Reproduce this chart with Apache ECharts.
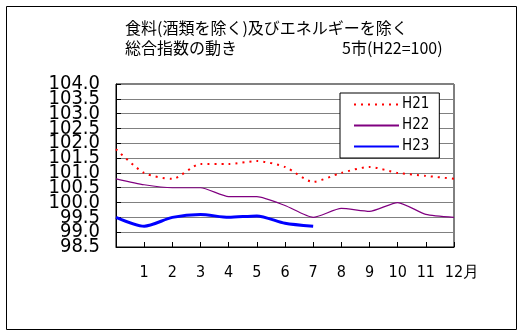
<!DOCTYPE html>
<html>
<head>
<meta charset="utf-8">
<script src="https://cdn.jsdelivr.net/npm/echarts@6/dist/echarts.min.js"></script>
<style>
html,body{margin:0;padding:0;background:#fff;}
#c{width:523px;height:334px;}
</style>
</head>
<body>
<div id="c"></div>
<script>
// Data
const categories = ['', '1', '2', '3', '4', '5', '6', '7', '8', '9', '10', '11', '12'];
const seriesNames = ['H21', 'H22', 'H23'];
const h21 = [101.8, 101.0, 100.8, 101.3, 101.3, 101.4, 101.2, 100.7, 101.0, 101.2, 101.0, 100.9, 100.8];
const h22 = [100.8, 100.6, 100.5, 100.5, 100.2, 100.2, 99.9, 99.5, 99.8, 99.7, 100.0, 99.6, 99.5];
const h23 = [99.5, 99.2, 99.5, 99.6, 99.5, 99.55, 99.3, 99.2];
const yMin = 98.5, yMax = 104.0, yStep = 0.5;
const titleLine1 = '食料(酒類を除く)及びエネルギーを除く';
const titleLine2 = '総合指数の動き';
const subTitle = '5市(H22=100)';
const monthUnit = '月';

const narrow = "'Liberation Sans Narrow', 'DejaVu Sans Condensed', sans-serif";
const cjk = "'Noto Sans CJK JP', sans-serif";

function yLabel(wantHalf) {
  return function (v) {
    const isHalf = Math.abs(v - Math.floor(v) - 0.5) < 1e-6;
    return isHalf === wantHalf ? v.toFixed(1) : '';
  };
}
const yLabelStyle = {margin: 16, color: '#000', fontFamily: narrow, fontSize: 20, hideOverlap: false,
  showMinLabel: true, showMaxLabel: true};

const chart = echarts.init(document.getElementById('c'), null, {renderer: 'canvas'});
chart.setOption({
  backgroundColor: '#fff',
  animation: false,
  title: [
    {text: titleLine1 + '\n' + titleLine2, left: 120, top: 13,
     textStyle: {fontFamily: cjk, fontSize: 16, fontWeight: 'normal', color: '#000', lineHeight: 20}},
    {text: subTitle, left: 337, top: 33,
     textStyle: {fontFamily: cjk, fontSize: 16, fontWeight: 'normal', color: '#000', lineHeight: 20}}
  ],
  graphic: [{
    type: 'rect', shape: {x: 6.5, y: 6.5, width: 510, height: 323},
    style: {fill: 'none', stroke: '#000', lineWidth: 1}, silent: true
  }],
  legend: {
    orient: 'vertical', left: 340, top: 93,
    padding: [4, 10, 4, 13], itemGap: 6, itemWidth: 45, itemHeight: 14,
    backgroundColor: '#fff', borderColor: '#000', borderWidth: 1,
    itemStyle: {opacity: 0},
    textStyle: {fontFamily: narrow, fontSize: 15, color: '#000', padding: [0, 0, 0, -2]},
    data: seriesNames
  },
  grid: {left: 116, top: 84, right: 69, bottom: 87, show: true, borderColor: '#000', borderWidth: 1, containLabel: false},
  xAxis: {
    type: 'category', data: categories, boundaryGap: false,
    axisLine: {lineStyle: {color: '#000', width: 1}},
    axisTick: {show: true, inside: true, length: 5, lineStyle: {color: '#000'}},
    axisLabel: {
      interval: 0, margin: 18, color: '#000', fontFamily: narrow, fontSize: 16,
      formatter: function (v) { return v === '12' ? '{a|' + v + monthUnit + '}' : v; },
      rich: {a: {fontFamily: narrow, fontSize: 16, color: '#000', padding: [0, 0, 0, 16]}}
    },
    splitLine: {show: false}
  },
  yAxis: [
    {
      type: 'value', min: yMin, max: yMax, interval: yStep, position: 'left',
      axisLine: {show: true, lineStyle: {color: '#000'}},
      axisTick: {show: true, inside: true, length: 5, lineStyle: {color: '#000'}},
      axisLabel: Object.assign({formatter: yLabel(true)}, yLabelStyle),
      splitLine: {show: true, lineStyle: {color: '#808080', width: 1}}
    },
    {
      type: 'value', min: yMin, max: yMax, interval: yStep, position: 'left', offset: 0,
      axisLine: {show: false}, axisTick: {show: false}, splitLine: {show: false},
      axisLabel: Object.assign({formatter: yLabel(false)}, yLabelStyle)
    }
  ],
  series: [
    {name: seriesNames[0], type: 'line', data: h21, symbol: 'none', smooth: 0.25,
     lineStyle: {color: '#ff0000', width: 2, type: [2, 5]}, itemStyle: {color: '#ff0000'}},
    {name: seriesNames[1], type: 'line', data: h22, symbol: 'none', smooth: 0.2,
     lineStyle: {color: '#800080', width: 1.2}, itemStyle: {color: '#800080'}},
    {name: seriesNames[2], type: 'line', data: h23, symbol: 'none', smooth: 0.25,
     lineStyle: {color: '#0000ff', width: 3}, itemStyle: {color: '#0000ff'}}
  ]
});
</script>
</body>
</html>
